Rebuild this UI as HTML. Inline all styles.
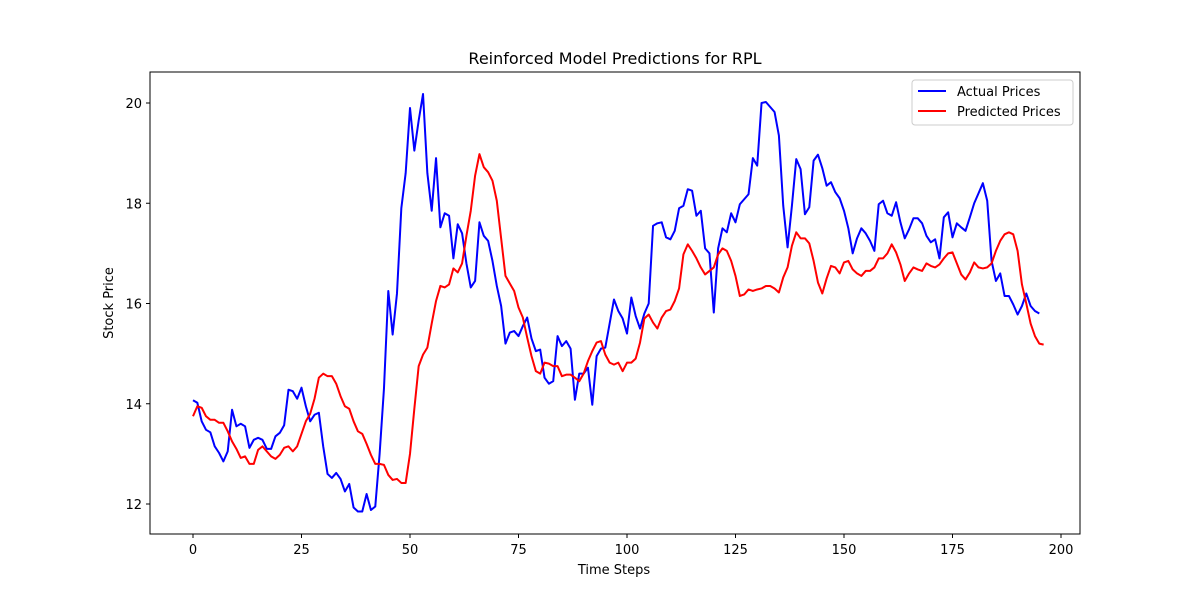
<!DOCTYPE html>
<html><head><meta charset="utf-8"><style>
body{margin:0;background:#fff;font-family:"Liberation Sans","DejaVu Sans",sans-serif}
</style></head><body>
<svg id="chart" width="1200" height="600" xmlns="http://www.w3.org/2000/svg" font-family="DejaVu Sans, Liberation Sans, sans-serif">
<rect width="1200" height="600" fill="#fff"/>
<text x="615" y="64" text-anchor="middle" font-size="16">Reinforced Model Predictions for RPL</text>
<g id="ticks"></g>
<g id="series"></g>
<rect x="150" y="72" width="930" height="462" fill="none" stroke="#000" stroke-width="1"/>
<text x="614" y="574" text-anchor="middle" font-size="13">Time Steps</text>
<text x="113" y="303" text-anchor="middle" font-size="13" transform="rotate(-90 113 303)">Stock Price</text>
<g>
<rect x="912" y="80" width="161" height="45" rx="3" fill="#fff" stroke="#ccc"/>
<g><line x1="918" y1="91" x2="946" y2="91" stroke="blue" stroke-width="2"/><text x="957" y="96" font-size="13">Actual Prices</text></g>
<g><line x1="918" y1="111" x2="946" y2="111" stroke="red" stroke-width="2"/><text x="957" y="116" font-size="13">Predicted Prices</text></g>
</g>
</svg>
<script>
const xTicks=[0,25,50,75,100,125,150,175,200];
const yTicks=[12,14,16,18,20];
const actual=[14.07,14.02,13.65,13.48,13.43,13.15,13.02,12.85,13.05,13.88,13.55,13.6,13.55,13.12,13.28,13.32,13.28,13.1,13.1,13.35,13.42,13.57,14.28,14.25,14.1,14.32,13.95,13.65,13.78,13.82,13.15,12.6,12.52,12.62,12.5,12.25,12.4,11.93,11.85,11.85,12.2,11.88,11.95,13.0,14.3,16.25,15.38,16.2,17.9,18.6,19.9,19.05,19.65,20.18,18.6,17.85,18.9,17.52,17.8,17.75,16.9,17.58,17.4,16.8,16.32,16.45,17.62,17.35,17.25,16.85,16.35,15.95,15.2,15.42,15.45,15.35,15.55,15.72,15.3,15.05,15.08,14.52,14.4,14.45,15.35,15.15,15.25,15.1,14.08,14.6,14.6,14.72,13.98,14.95,15.1,15.12,15.6,16.08,15.85,15.7,15.4,16.12,15.75,15.5,15.8,16.0,17.55,17.6,17.62,17.32,17.28,17.45,17.9,17.95,18.28,18.25,17.75,17.85,17.1,17.0,15.82,17.1,17.5,17.42,17.8,17.62,17.98,18.08,18.18,18.9,18.75,20.0,20.02,19.92,19.82,19.35,17.95,17.12,17.95,18.88,18.68,17.78,17.92,18.85,18.97,18.7,18.35,18.42,18.22,18.1,17.85,17.5,17.0,17.3,17.5,17.4,17.25,17.05,17.98,18.05,17.8,17.75,18.02,17.62,17.3,17.48,17.7,17.7,17.6,17.35,17.22,17.28,16.9,17.72,17.82,17.32,17.6,17.52,17.45,17.72,18.0,18.2,18.4,18.05,16.85,16.45,16.6,16.15,16.15,15.98,15.78,15.95,16.2,15.95,15.85,15.8];
const predicted=[13.75,13.95,13.92,13.75,13.68,13.68,13.62,13.62,13.45,13.25,13.1,12.92,12.95,12.8,12.8,13.08,13.15,13.05,12.95,12.9,12.98,13.12,13.15,13.05,13.15,13.4,13.65,13.8,14.1,14.52,14.6,14.55,14.55,14.4,14.15,13.95,13.9,13.65,13.45,13.4,13.2,12.98,12.8,12.8,12.78,12.58,12.48,12.5,12.42,12.42,13.0,13.9,14.75,14.98,15.12,15.6,16.05,16.35,16.32,16.38,16.7,16.62,16.8,17.35,17.85,18.55,18.98,18.72,18.62,18.45,18.05,17.3,16.55,16.4,16.25,15.92,15.72,15.32,14.95,14.65,14.6,14.82,14.8,14.75,14.75,14.55,14.58,14.58,14.52,14.45,14.6,14.85,15.05,15.22,15.25,14.98,14.82,14.78,14.82,14.65,14.82,14.82,14.9,15.22,15.7,15.78,15.62,15.5,15.72,15.85,15.88,16.05,16.3,16.98,17.18,17.05,16.9,16.72,16.58,16.65,16.72,16.98,17.1,17.05,16.85,16.55,16.15,16.18,16.28,16.25,16.28,16.3,16.35,16.35,16.3,16.22,16.52,16.72,17.15,17.42,17.3,17.3,17.2,16.85,16.42,16.2,16.5,16.75,16.72,16.6,16.82,16.85,16.68,16.6,16.55,16.65,16.65,16.72,16.9,16.9,17.0,17.18,17.02,16.78,16.45,16.6,16.72,16.68,16.65,16.8,16.75,16.72,16.78,16.9,17.0,17.02,16.8,16.58,16.48,16.62,16.82,16.72,16.7,16.72,16.8,17.05,17.25,17.38,17.42,17.38,17.05,16.38,16.0,15.6,15.35,15.2,15.18];
const NS="http://www.w3.org/2000/svg";
const xs=v=>193+v*(1061-193)/200;
const ys=v=>504-(v-12)*(504-103)/8;
const tg=document.getElementById('ticks');
function mk(tag,attrs,parent){const e=document.createElementNS(NS,tag);for(const k in attrs)e.setAttribute(k,attrs[k]);parent.appendChild(e);return e;}
xTicks.forEach(t=>{
  const g=mk('g',{},tg);
  
  
  mk('line',{x1:xs(t),x2:xs(t),y1:534,y2:538,stroke:'#000'},g);
  const tx=mk('text',{x:xs(t),y:554,'text-anchor':'middle','font-size':13},g);tx.textContent=t;
});
yTicks.forEach(t=>{
  const g=mk('g',{},tg);
  
  
  mk('line',{x1:146,x2:150,y1:ys(t),y2:ys(t),stroke:'#000'},g);
  const tx=mk('text',{x:142,y:ys(t)+5,'text-anchor':'end','font-size':13},g);tx.textContent=t;
});
const sg=document.getElementById('series');
function line(data,color,name){
  const p=mk('polyline',{points:data.map((v,i)=>xs(i)+','+ys(v)).join(' '),fill:'none',stroke:color,'stroke-width':2,'stroke-linejoin':'round'},sg);
  
  
}
line(actual,'blue','actual-prices-line');
line(predicted,'red','predicted-prices-line');
</script>
</body></html>
